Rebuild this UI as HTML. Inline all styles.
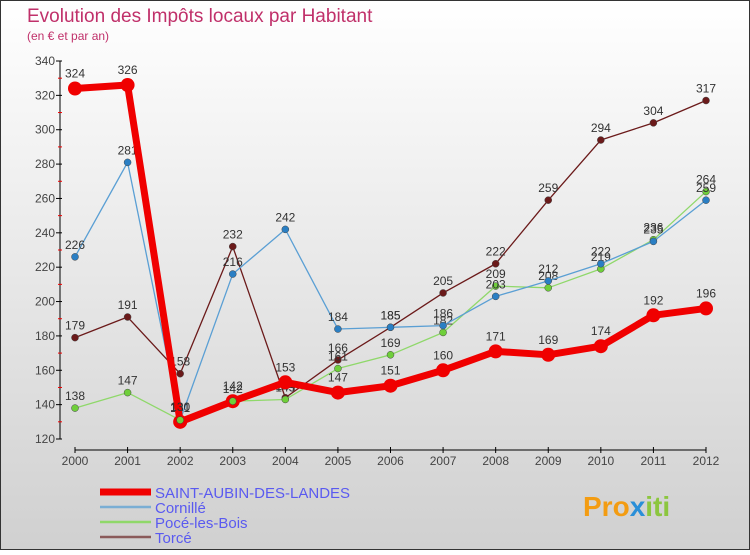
<!DOCTYPE html>
<html><head><meta charset="utf-8"><style>
body{margin:0;width:750px;height:550px;overflow:hidden;font-family:"Liberation Sans",sans-serif}
</style></head><body>
<svg id="c" width="750" height="550" xmlns="http://www.w3.org/2000/svg">
<defs><linearGradient id="bg" x1="0" y1="0" x2="0" y2="1"><stop offset="0" stop-color="#ffffff"/><stop offset="1" stop-color="#d0d0d0"/></linearGradient></defs>
<rect x="0.5" y="0.5" width="749" height="549" fill="url(#bg)" stroke="#333"/>
<text x="27" y="22" font-size="19" fill="#c0306a">Evolution des Impôts locaux par Habitant</text>
<text x="27" y="40" font-size="12" fill="#c0306a">(en € et par an)</text>
<g id="axes"></g><g id="series"></g><g id="legend"></g>
<text x="583" y="516" font-size="28" font-weight="bold" fill="#f39c12">Pro<tspan fill="#2a8fd8">x</tspan><tspan fill="#8cc63f">iti</tspan></text>
</svg>
<script>
const years=[2000,2001,2002,2003,2004,2005,2006,2007,2008,2009,2010,2011,2012];
const yTicks=[120,140,160,180,200,220,240,260,280,300,320,340];
const saint=[324,326,130,142,153,147,151,160,171,169,174,192,196];
const cornille=[226,281,131,216,242,184,185,186,203,212,222,235,259];
const poce=[138,147,131,142,143,161,169,182,209,208,219,236,264];
const torce=[179,191,158,232,144,166,185,205,222,259,294,304,317];
const NS="http://www.w3.org/2000/svg";
const X=i=>75+i*(706-75)/12;
const Y=v=>439-(v-120)*(439-61)/220;
function mk(t,a,p,txt){const e=document.createElementNS(NS,t);for(const k in a)e.setAttribute(k,a[k]);if(txt!==undefined)e.textContent=txt;p.appendChild(e);return e;}
const ax=document.getElementById('axes');
let e=mk('line',{x1:60,y1:Y(340),x2:60,y2:Y(120),stroke:'#000'},ax);


yTicks.forEach(v=>{mk('line',{x1:56,y1:Y(v),x2:62,y2:Y(v),stroke:'#000'},ax);
 let t=mk('text',{x:55,y:Y(v)+4,'text-anchor':'end','font-size':12,fill:'#444'},ax,v);
 
 
 if(v<340)mk('line',{x1:58,y1:Y(v+10),x2:62,y2:Y(v+10),stroke:'#e00'},ax);});
e=mk('line',{x1:X(0),y1:450,x2:X(12),y2:450,stroke:'#000'},ax);


years.forEach((y,i)=>{mk('line',{x1:X(i),y1:447,x2:X(i),y2:453,stroke:'#000'},ax);
 let t=mk('text',{x:X(i),y:465,'text-anchor':'middle','font-size':12,fill:'#444'},ax,y);
 
 });
const sg=document.getElementById('series');
const defs=[[torce,'#6b1a1a','#6b1a1a',1.3,3.5,'torce'],[poce,'#8fd86a','#6fcf3a',1.3,3.5,'poce-les-bois'],[cornille,'#5a9fd4','#2a7fc4',1.3,3.5,'cornille'],[saint,'#f00000','#f00000',7,7,'saint-aubin-des-landes']];
defs.forEach(([d,c,mc,w,r,n])=>{const g=mk('g',{},sg);
 
 
 let p=mk('polyline',{points:d.map((v,i)=>X(i)+','+Y(v)).join(' '),fill:'none',stroke:c,'stroke-width':w,'stroke-linejoin':'round'},g);
 
 
 d.forEach((v,i)=>{let m=mk('circle',{cx:X(i),cy:Y(v),r:r,fill:mc,stroke:n==='saint-aubin-des-landes'?'none':'#444','stroke-width':0.5},g);
  
  
  let t=mk('text',{x:X(i),y:Y(v)-(n==='saint-aubin-des-landes'?11:8),'text-anchor':'middle','font-size':12,fill:'#333'},g,v);
  
  });
 if(n==='saint-aubin-des-landes'){ [2,3].forEach(i=>{mk('circle',{cx:X(i),cy:Y(poce[i]),r:3.5,fill:'#6fcf3a',stroke:'#444','stroke-width':0.5},g);}); }
});
const lg=document.getElementById('legend');
const leg=[['SAINT-AUBIN-DES-LANDES','#f00000',7],['Cornillé','#7aaed4',2.5],['Pocé-les-Bois','#8fd86a',2.5],['Torcé','#8a5a5a',2.5]];
leg.forEach(([n,c,w],i)=>{const y=492+i*15;const g=mk('g',{},lg);
 
 
 mk('line',{x1:100,y1:y,x2:151,y2:y,stroke:c,'stroke-width':w},g);
 mk('text',{x:155,y:y+6,'font-size':15,fill:'#5a5af0'},g,n);});
</script>
</body></html>
